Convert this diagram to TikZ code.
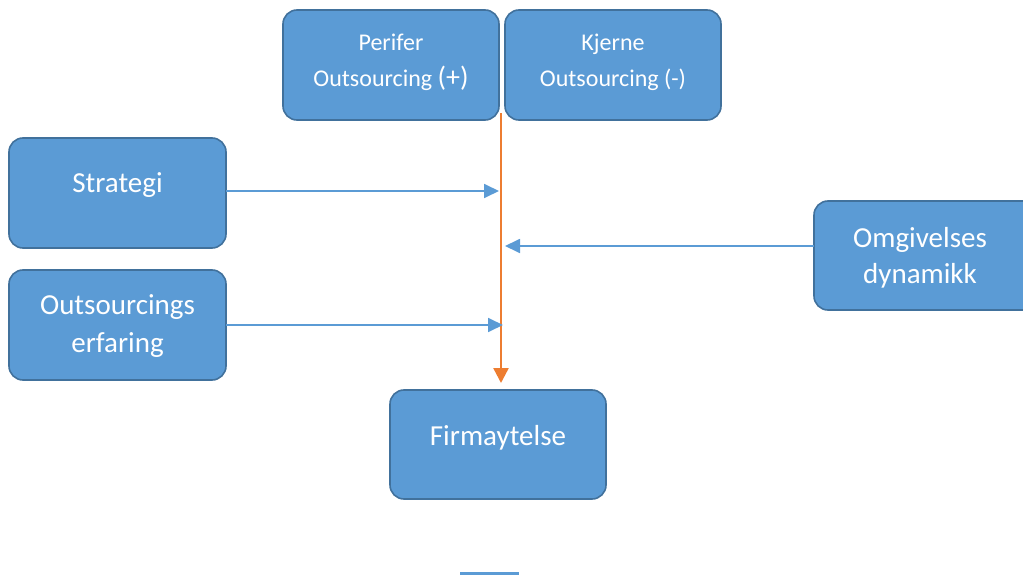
\documentclass[tikz,border=0pt]{standalone}
\usepackage{fontspec}
\setmainfont{Carlito}
\usetikzlibrary{arrows.meta}
\definecolor{boxfill}{HTML}{5B9BD5}
\definecolor{boxline}{HTML}{41719C}
\definecolor{orng}{HTML}{ED7D31}
\tikzset{
  bx/.style={draw=boxline, line width=1.6pt, fill=boxfill, rounded corners=14pt, text=white, align=center},
  txt/.style={text=white, align=center, inner sep=0pt},
  bluearrow/.style={draw=boxfill, line width=1.8pt, -{Triangle[length=15pt,width=14pt]}},
  orangearrow/.style={draw=orng, line width=2.4pt, -{Triangle[length=15pt,width=15pt]}}
}
\begin{document}
\begin{tikzpicture}[x=1pt,y=-1pt]
\useasboundingbox (0,0) rectangle (1023,575);
\begin{scope}
\clip (0,0) rectangle (1023,575);
% boxes
\draw[bx] (283,10) rectangle (499,120);
\node[txt, font=\fontsize{24}{36}\selectfont] (per) at (391,62) {Perifer\\Outsourcing {\fontsize{28}{28}\selectfont(+)}};
\draw[bx] (505,10) rectangle (721,120);
\node[txt, font=\fontsize{24}{36}\selectfont] (kje) at (613,62) {Kjerne\\Outsourcing (-)};
\draw[bx] (9,138) rectangle (226,248);
\node[txt, font=\fontsize{29}{34}\selectfont] (str) at (117.5,185) {Strategi};
\draw[bx] (9,270) rectangle (226,380);
\node[txt, font=\fontsize{29}{38}\selectfont] (out) at (117.5,326) {Outsourcings\\erfaring};
\draw[bx] (814,201) rectangle (1040,310);
\node[txt, font=\fontsize{29}{36}\selectfont] (omg) at (920,257.5) {Omgivelses\\dynamikk};
\draw[bx] (390,390) rectangle (606,499);
\node[txt, font=\fontsize{29}{34}\selectfont] (fir) at (498,438) {Firmaytelse};
% connectors
\coordinate (otop) at (501,113);
\coordinate (obot) at (501,383);
\draw[orangearrow] (otop) -- (obot);
\coordinate (s1) at (226,191);
\coordinate (s2) at (499,191);
\draw[bluearrow] (s1) -- (s2);
\coordinate (o1) at (226,325);
\coordinate (o2) at (503,325);
\draw[bluearrow] (o1) -- (o2);
\coordinate (m1) at (814,246);
\coordinate (m2) at (505,246);
\draw[bluearrow] (m1) -- (m2);
% bottom fragment
\fill[boxfill] (460,572) rectangle (519,576);
\end{scope}
\end{tikzpicture}
\end{document}
